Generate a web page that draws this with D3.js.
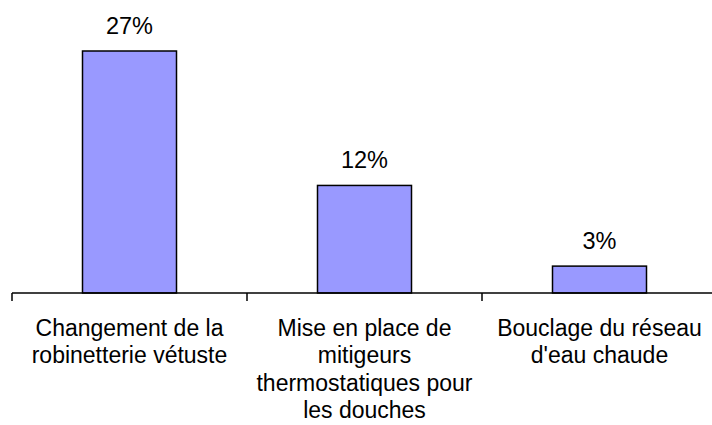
<!DOCTYPE html>
<html>
<head>
<meta charset="utf-8">
<script src="https://cdn.jsdelivr.net/npm/d3@7"></script>
<style>
body { margin: 0; background: #fff; }
text { font-family: "Liberation Sans", Arial, sans-serif; fill: #000; }
</style>
</head>
<body>
<div id="chart"></div>
<script>
var categories = ["Changement de la robinetterie vétuste", "Mise en place de mitigeurs thermostatiques pour les douches", "Bouclage du réseau d'eau chaude"]
var categoryLines = [
	["Changement de la", "robinetterie vétuste"],
	["Mise en place de", "mitigeurs", "thermostatiques pour", "les douches"],
	["Bouclage du réseau", "d'eau chaude"]
]
var values = [27, 12, 3]
var valueLabels = ["27%", "12%", "3%"]

var width = 712, height = 425
var baseY = 293

var svg = d3.select("#chart").append("svg")
	.attr("width", width)
	.attr("height", height)

var x = d3.scaleBand().domain(categories).range([12, 717]).paddingInner(0.6).paddingOuter(0.3)
var y = d3.scaleLinear().domain([0, 27]).range([baseY, 51])

// bars
svg.selectAll("rect.bar").data(values).enter().append("rect")
	.attr("class", "bar")
	.attr("x", function(d, i) { return x(categories[i]) })
	.attr("y", function(d) { return y(d) })
	.attr("width", x.bandwidth())
	.attr("height", function(d) { return y(0) - y(d) })
	.attr("fill", "#9999ff")
	.attr("stroke", "#000")
	.attr("stroke-width", 1.5)

// value labels
svg.selectAll("text.val").data(values).enter().append("text")
	.attr("class", "val")
	.attr("text-anchor", "middle")
	.attr("font-size", "23.5px")
	.attr("x", function(d, i) { return x(categories[i]) + x.bandwidth() / 2 })
	.attr("y", function(d) { return y(d) - 17 })
	.text(function(d, i) { return valueLabels[i] })

// axis line and ticks at category boundaries
var step = x.step()
var x0 = x.range()[0]
svg.append("line")
	.attr("x1", x0).attr("x2", x.range()[1])
	.attr("y1", baseY).attr("y2", baseY)
	.attr("stroke", "#000").attr("stroke-width", 1.5)

svg.selectAll("line.tick").data(d3.range(categories.length + 1)).enter().append("line")
	.attr("class", "tick")
	.attr("x1", function(i) { return x0 + i * step })
	.attr("x2", function(i) { return x0 + i * step })
	.attr("y1", baseY).attr("y2", baseY + 8)
	.attr("stroke", "#000").attr("stroke-width", 1.5)

// category labels
categoryLines.forEach(function(lines, i) {
	var cx = x(categories[i]) + x.bandwidth() / 2
	lines.forEach(function(line, j) {
		svg.append("text")
			.attr("text-anchor", "middle")
			.attr("font-size", "23px")
			.attr("x", cx)
			.attr("y", 336 + j * 27.3)
			.text(line)
	})
})
</script>
</body>
</html>
